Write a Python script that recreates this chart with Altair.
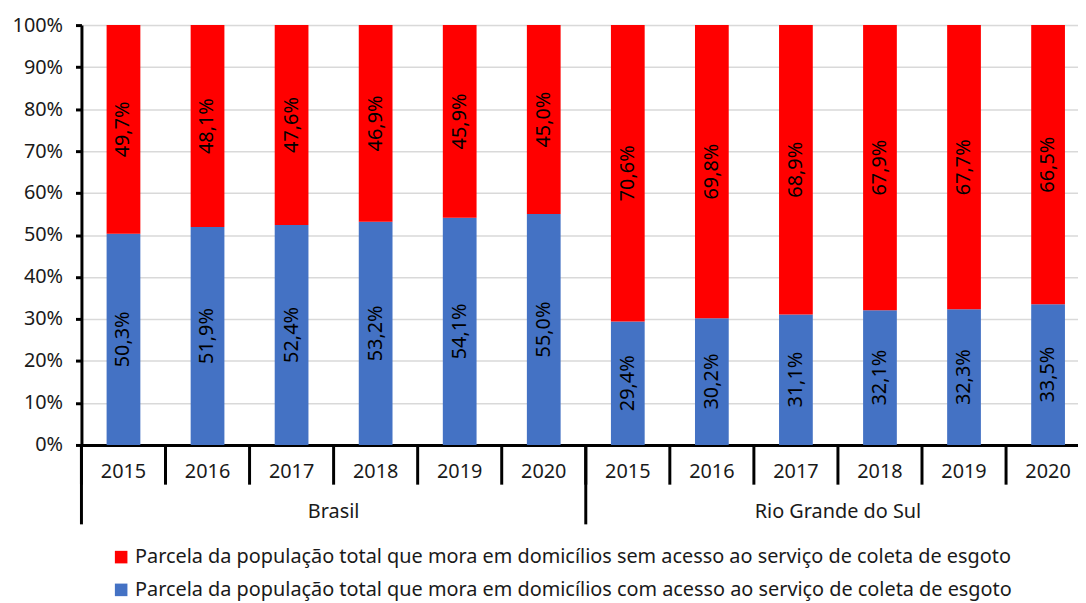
import altair as alt
import pandas as pd

groups = ["Brasil", "Rio Grande do Sul"]
years = ["2015", "2016", "2017", "2018", "2019", "2020"]
com_acesso = {
    "Brasil": [50.3, 51.9, 52.4, 53.2, 54.1, 55.0],
    "Rio Grande do Sul": [29.4, 30.2, 31.1, 32.1, 32.3, 33.5],
}
sem_acesso = {
    "Brasil": [49.7, 48.1, 47.6, 46.9, 45.9, 45.0],
    "Rio Grande do Sul": [70.6, 69.8, 68.9, 67.9, 67.7, 66.5],
}
serie_sem = "Parcela da população total que mora em domicílios sem acesso ao serviço de coleta de esgoto"
serie_com = "Parcela da população total que mora em domicílios com acesso ao serviço de coleta de esgoto"

FONT = "Noto Sans"
FS = 20
TXT = "#1a1a1a"

rows = []
years_rows = []
sep_rows = []
group_rows = []
for gi, g in enumerate(groups):
    group_rows.append({"grupo": g, "pos": gi * len(years) + len(years) / 2})
    for yi, y in enumerate(years):
        idx = gi * len(years) + yi
        years_rows.append({"ano": y, "pos": idx + 0.5})
        sep_rows.append({"pos": idx, "tipo": "grupo" if yi == 0 else "ano"})
        for serie, val, ordem in [(serie_com, com_acesso[g][yi], 0), (serie_sem, sem_acesso[g][yi], 1)]:
            rows.append({
                "pos": idx + 0.5,
                "serie": serie,
                "valor": val,
                "ordem": ordem,
                "rotulo": f"{val:.1f}".replace(".", ",") + "%",
            })

df = pd.DataFrame(rows)
df_years = pd.DataFrame(years_rows)
df_sep = pd.DataFrame(sep_rows)
df_groups = pd.DataFrame(group_rows)

# the reference plot area runs past the right edge of the picture
xscale = alt.Scale(domain=[0, 11.856], nice=False, zero=False, padding=0)
color_scale = alt.Scale(domain=[serie_sem, serie_com], range=["#FF0000", "#4472C4"])

bars = alt.Chart(df).mark_bar(size=34).encode(
    x=alt.X("pos:Q", scale=xscale,
            axis=alt.Axis(title=None, labels=False, ticks=False, grid=False,
                          domain=True, domainColor="black", domainWidth=3)),
    y=alt.Y("valor:Q", stack="normalize",
            scale=alt.Scale(domain=[0, 1], nice=False),
            axis=alt.Axis(title=None, format=".0%", values=[i / 10 for i in range(11)],
                          labelFont=FONT, labelFontSize=FS, labelColor=TXT,
                          labelPadding=13, tickSize=6, tickWidth=3, tickColor="black",
                          domainColor="black", domainWidth=3,
                          gridColor="#d9d9d9", gridWidth=1.5)),
    color=alt.Color("serie:N", scale=color_scale,
                    legend=alt.Legend(title=None, orient="none", legendX=30, legendY=526,
                                      direction="vertical", symbolType="square",
                                      symbolSize=160, symbolStrokeWidth=0,
                                      labelFont=FONT, labelFontSize=FS, labelColor=TXT,
                                      labelLimit=2000, rowPadding=13, labelOffset=4)),
    order=alt.Order("ordem:Q"),
)

labels = alt.Chart(df).transform_stack(
    stack="valor", groupby=["pos"], as_=["v0", "v1"], sort=[alt.SortField("ordem")],
    offset="normalize",
).transform_calculate(mid="(datum.v0 + datum.v1) / 2").mark_text(
    angle=270, font=FONT, fontSize=FS, color="black", baseline="middle", align="center"
).encode(
    x=alt.X("pos:Q", scale=xscale),
    y=alt.Y("mid:Q"),
    text="rotulo:N",
)

seps = alt.Chart(df_sep).mark_rule(color="black", strokeWidth=3).encode(
    x=alt.X("pos:Q", scale=xscale),
    y=alt.value(423),
    y2=alt.value(463),
)
seps_group = alt.Chart(df_sep).transform_filter("datum.tipo == 'grupo'").mark_rule(
    color="black", strokeWidth=3).encode(
    x=alt.X("pos:Q", scale=xscale),
    y=alt.value(423),
    y2=alt.value(503),
)

year_text = alt.Chart(df_years).mark_text(
    font=FONT, fontSize=FS, color=TXT, baseline="middle").encode(
    x=alt.X("pos:Q", scale=xscale),
    y=alt.value(450),
    text="ano:N",
)
group_text = alt.Chart(df_groups).mark_text(
    font=FONT, fontSize=FS, color=TXT, baseline="middle").encode(
    x=alt.X("pos:Q", scale=xscale),
    y=alt.value(491),
    text="grupo:N",
)

chart = alt.layer(bars, labels, seps, seps_group, year_text, group_text).properties(
    width=1004, height=423,
    autosize=alt.AutoSizeParams(type="none"),
    padding={"left": 74, "top": 15, "right": 0, "bottom": 156},
).configure_view(stroke=None).configure(font=FONT)

chart.save("out.html", embed_options={"renderer": "svg", "actions": False})
